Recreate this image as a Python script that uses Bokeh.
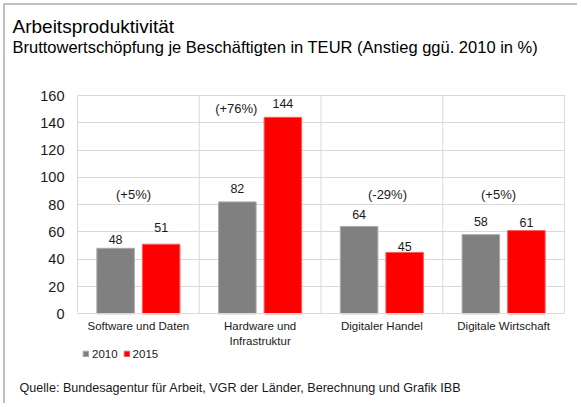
from bokeh.plotting import figure
from bokeh.models import (Range1d, FixedTicker, Label, Legend, LegendItem,
                          ColumnDataSource, LabelSet, Title)
from bokeh.embed import file_html
from bokeh.resources import INLINE
from bokeh.core.properties import value

# ---------------- data ----------------
categories = ["Software und Daten", "Hardware und\nInfrastruktur",
              "Digitaler Handel", "Digitale Wirtschaft"]
series_names = ["2010", "2015"]
values_2010 = [48, 82, 64, 58]
values_2015 = [51, 144, 45, 61]
change_labels = ["(+5%)", "(+76%)", "(-29%)", "(+5%)"]
y_ticks = [0, 20, 40, 60, 80, 100, 120, 140, 160]

title_text = "Arbeitsproduktivität"
subtitle_text = "Bruttowertschöpfung je Beschäftigten in TEUR (Anstieg ggü. 2010 in %)"
source_text = "Quelle: Bundesagentur für Arbeit, VGR der Länder, Berechnung und Grafik IBB"

# ---------------- styles / layout ----------------
FONT = "Liberation Sans"
GREY = "#808080"
RED = "#FF0000"
GRID = "#d9d9d9"
TXT = "#1a1a1a"
W, H = 574, 400
NCAT = len(categories)
YMAX = y_ticks[-1]
PLOT_L, PLOT_T, PLOT_W, PLOT_H = 72, 90, 487, 218.3   # visible plot box (px)
PX_X = PLOT_W / NCAT
PX_Y = PLOT_H / YMAX
MB = 30                                                # source line strip
FRAME_B = H - MB
MT = PLOT_T - 1
MR = W - (PLOT_L + PLOT_W + 1)
BAR_W = 0.308
BAR_OFF = 0.187
gap_2010 = [9, 13, 12, 13]       # label centre above bar top (px)
gap_2015 = [17, 14, 6, 8]
chg_dx = [-0.04, -0.196, 0.046, -0.042]   # category-relative x of change labels
chg_y = [87.2, 150.3, 87.2, 87.2]

xc = [i + 0.5 for i in range(NCAT)]

p = figure(width=W, height=H, output_backend="svg", toolbar_location=None,
           x_range=Range1d(0, NCAT + 1 / PX_X),
           y_range=Range1d(-(FRAME_B - (PLOT_T + PLOT_H)) / PX_Y, YMAX + 1 / PX_Y),
           min_border_left=PLOT_L, min_border_right=MR,
           min_border_top=MT, min_border_bottom=MB)
p.styles = {"margin-left": "3px", "margin-top": "3px",
            "border-top": "2px solid #c0c0c0", "border-left": "2px solid #c0c0c0"}
p.background_fill_color = "white"
p.border_fill_color = "white"
p.outline_line_color = None

# titles: first "above" item sits nearest the plot, p.title is outermost
p.add_layout(Title(text=" ", text_font=FONT, text_font_size="1px",
                   standoff=34.6), "above")
p.add_layout(Title(text=subtitle_text, text_font=FONT, text_font_size="16.5px",
                   text_font_style="normal", text_color="#000000",
                   align="left", offset=-(PLOT_L - 7), standoff=2), "above")
p.title.text = title_text
p.title.text_font = FONT
p.title.text_font_size = "19px"
p.title.text_font_style = "normal"
p.title.text_color = "#000000"
p.title.align = "left"
p.title.offset = -(PLOT_L - 7)
p.title.standoff = -5.2

# vertical category separators and right border of the plot box
p.segment(x0=list(range(1, NCAT + 1)), x1=list(range(1, NCAT + 1)),
          y0=0, y1=YMAX, line_color=GRID, line_width=1)

src10 = ColumnDataSource(dict(x=[c - BAR_OFF for c in xc], top=values_2010,
                              ly=[v + g / PX_Y for v, g in zip(values_2010, gap_2010)],
                              txt=[str(v) for v in values_2010]))
src15 = ColumnDataSource(dict(x=[c + BAR_OFF for c in xc], top=values_2015,
                              ly=[v + g / PX_Y for v, g in zip(values_2015, gap_2015)],
                              txt=[str(v) for v in values_2015]))

r10 = p.vbar(x="x", top="top", width=BAR_W, bottom=0, source=src10,
             fill_color=GREY, line_color="#a8a8a8", line_width=1)
r15 = p.vbar(x="x", top="top", width=BAR_W, bottom=0, source=src15,
             fill_color=RED, line_color="#ff5a5a", line_width=1)

for s in (src10, src15):
    p.add_layout(LabelSet(x="x", y="ly", text="txt", source=s,
                          text_align="center", text_baseline="middle",
                          text_font=value(FONT), text_font_size="12.5px",
                          text_color=TXT))

for i, t in enumerate(change_labels):
    p.add_layout(Label(x=xc[i] + chg_dx[i], y=chg_y[i], text=t,
                       text_align="center", text_baseline="middle",
                       text_font=FONT, text_font_size="13px", text_color=TXT))

# grids
p.xgrid.grid_line_color = None
p.ygrid.ticker = FixedTicker(ticks=y_ticks[1:])
p.ygrid.grid_line_color = GRID

# x axis fixed at value 0 (labels sit below the plot box)
p.xaxis.fixed_location = 0
p.xaxis.bounds = (0, NCAT)
p.xaxis.ticker = FixedTicker(ticks=xc)
p.xaxis.major_label_overrides = {c: lab for c, lab in zip(xc, categories)}
p.xaxis.axis_line_color = GRID
p.xaxis.major_tick_line_color = None
p.xaxis.minor_tick_line_color = None
p.xaxis.major_tick_out = 0
p.xaxis.major_label_standoff = 6
p.xaxis.major_label_text_font = FONT
p.xaxis.major_label_text_font_size = "11.5px"
p.xaxis.major_label_text_line_height = 1.3
p.xaxis.major_label_text_color = TXT

p.yaxis.bounds = (0, YMAX)
p.yaxis.ticker = FixedTicker(ticks=y_ticks)
p.yaxis.axis_line_color = GRID
p.yaxis.major_tick_line_color = None
p.yaxis.minor_tick_line_color = None
p.yaxis.major_tick_out = 0
p.yaxis.major_label_standoff = 13
p.yaxis.major_label_text_font = FONT
p.yaxis.major_label_text_font_size = "14.5px"
p.yaxis.major_label_text_color = TXT

legend = Legend(items=[LegendItem(label=series_names[0], renderers=[r10]),
                       LegendItem(label=series_names[1], renderers=[r15])],
                orientation="horizontal", location=(5, FRAME_B - 354.5),
                border_line_color=None, background_fill_alpha=0,
                padding=0, margin=0, spacing=5, label_standoff=3,
                glyph_width=7, glyph_height=7, label_height=7,
                label_text_font=FONT, label_text_font_size="11.5px",
                label_text_color=TXT)
p.add_layout(legend, "center")

p.add_layout(Title(text=source_text, text_font=FONT, text_font_size="12.6px",
                   text_font_style="normal", text_color=TXT,
                   align="left", offset=-(PLOT_L - 14), standoff=7), "below")

open("out.html", "w").write(file_html(p, INLINE))
